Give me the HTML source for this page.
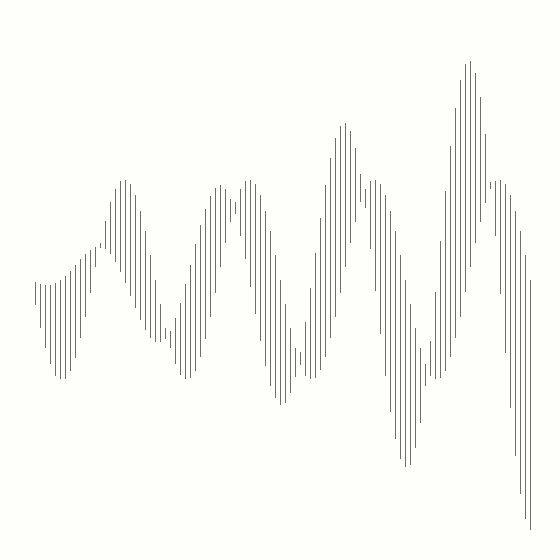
<!DOCTYPE html>
<html><head><meta charset="utf-8"><style>
html,body{margin:0;padding:0;background:#fefefa;}
svg{display:block;}
</style></head><body>
<svg id="chart" width="560" height="560" viewBox="0 0 560 560">
<rect width="560" height="560" fill="#fefefa"/>
<g id="marks"></g>
</svg>
<script>
const highs = [
278,276,275,275,277,280,284,289,295,301,
306,310,313,317,339,358,371,379,380,376,
365,349,329,305,280,256,232,229,242,257,
276,295,316,335,351,364,372,375,371,361,
358,371,379,380,376,365,349,329,305,280,
256,232,212,208,238,272,307,342,375,402,
422,434,437,429,412,386,371,379,380,376,
365,349,329,305,280,256,232,212,196,219,
268,319,369,414,452,480,496,499,487,463,
426,378,379,380,376,365,349,329,305,280];
const lows = [
255,232,212,196,184,181,181,189,202,222,
243,267,293,312,311,306,298,288,277,264,
252,240,230,222,218,218,221,212,196,185,
181,182,189,203,221,243,267,293,317,338,
346,324,301,273,246,219,194,174,162,155,
157,167,183,195,184,181,182,190,203,222,
243,267,293,317,338,358,352,311,269,226,
184,148,121,101,93,95,112,137,174,184,
181,182,189,203,222,243,268,293,317,338,
357,371,324,266,207,152,104,66,41,30];
const xScale = i => 35.5 + 5 * i;
const yScale = v => 560 - v;
const g = document.getElementById('marks');
const NS = 'http://www.w3.org/2000/svg';
for (let i = 0; i < highs.length; i++) {
  const l = document.createElementNS(NS, 'line');
  l.setAttribute('x1', xScale(i));
  l.setAttribute('x2', xScale(i));
  l.setAttribute('y1', yScale(highs[i]));
  l.setAttribute('y2', yScale(lows[i]));
  l.setAttribute('stroke', '#6f6f6a');
  l.setAttribute('stroke-width', '1');
  
  
  g.appendChild(l);
}
</script>
</body></html>
